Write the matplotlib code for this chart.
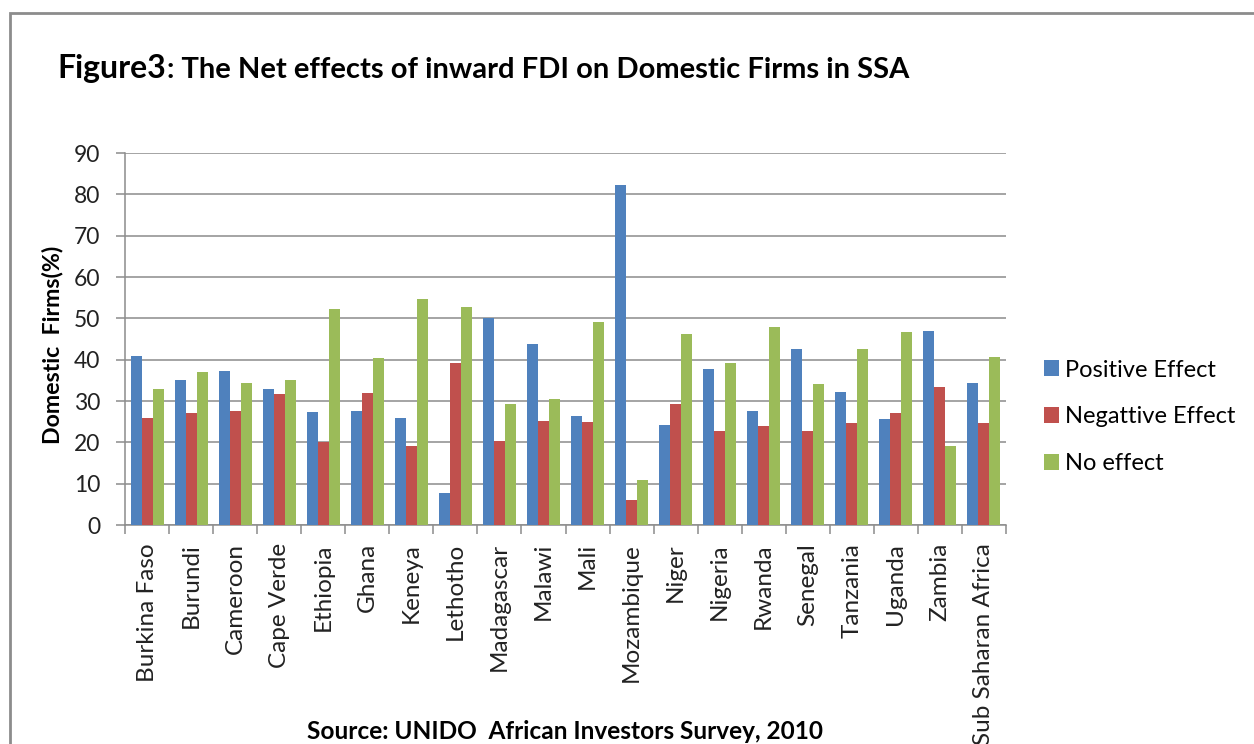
import matplotlib
matplotlib.use("Agg")
import matplotlib.pyplot as plt
import numpy as np
from matplotlib.patches import Rectangle

countries = ["Burkina Faso", "Burundi", "Cameroon", "Cape Verde", "Ethiopia", "Ghana",
             "Keneya", "Lethotho", "Madagascar", "Malawi", "Mali", "Mozambique", "Niger",
             "Nigeria", "Rwanda", "Senegal", "Tanzania", "Uganda", "Zambia",
             "Sub Saharan Africa"]
positive = [41.0, 35.2, 37.3, 32.8, 27.3, 27.7, 25.8, 7.7, 50.0, 43.7,
            26.4, 82.3, 24.3, 37.7, 27.7, 42.5, 32.2, 25.6, 47.0, 34.3]
negative = [25.8, 27.0, 27.7, 31.6, 20.0, 31.9, 19.1, 39.2, 20.3, 25.2,
            24.9, 6.1, 29.2, 22.8, 24.0, 22.8, 24.6, 27.0, 33.4, 24.6]
no_effect = [32.8, 37.0, 34.3, 35.2, 52.2, 40.3, 54.6, 52.8, 29.2, 30.6,
             49.2, 11.0, 46.1, 39.2, 48.0, 34.0, 42.5, 46.8, 19.2, 40.6]
series_names = ["Positive Effect", "Negattive Effect", "No effect"]
colors = ["#4F81BD", "#C0504D", "#9BBB59"]
yticks = [0, 10, 20, 30, 40, 50, 60, 70, 80, 90]

plt.rcParams['font.family'] = ['Lato', 'DejaVu Sans']

W, H = 1254, 744
fig = plt.figure(figsize=(W / 100, H / 100), dpi=100)
fig.patch.set_facecolor("white")

# outer chart frame
fig.add_artist(Rectangle((10 / W, -0.1), 1.2, (H - 13) / H + 0.1, transform=fig.transFigure,
                         fill=False, edgecolor="#8c8c8c", linewidth=2.0))

left, right, top, bottom = 125, 1006, 153, 525
ax = fig.add_axes([left / W, 1 - bottom / H, (right - left) / W, (bottom - top) / H])

x = np.arange(len(countries))
bw = 0.25
for i, (vals, name, c) in enumerate(zip([positive, negative, no_effect], series_names, colors)):
    ax.bar(x + (i - 1) * bw, vals, width=bw, color=c, label=name, zorder=3)

ax.set_xlim(-0.5, len(countries) - 0.5)
ax.set_ylim(0, 90)
ax.set_yticks(yticks)
ax.set_yticklabels([str(v) for v in yticks], fontsize=16.5, color="#222222")
ax.yaxis.grid(True, color="#8c8c8c", linewidth=1.1, zorder=0)
ax.set_axisbelow(True)

ax.set_xticks(x)
ax.set_xticklabels(countries, rotation=90, fontsize=17.5, color="#222222")
ax.tick_params(axis='x', which='major', length=0, pad=13)
ax.set_xticks(np.arange(-0.5, len(countries), 1), minor=True)
ax.tick_params(axis='x', which='minor', length=6.5, color="#8c8c8c", width=1.1, direction='out')
ax.tick_params(axis='y', length=6.5, color="#8c8c8c", width=1.1, direction='out', pad=11.5)

for s in ['top', 'right']:
    ax.spines[s].set_visible(False)
for s in ['left', 'bottom']:
    ax.spines[s].set_color("#8c8c8c")
    ax.spines[s].set_linewidth(1.1)

fig.text(53 / W, 1 - 345 / H, "Domestic  Firms(%)", fontsize=16.7, fontweight='bold',
         rotation=90, ha='center', va='center')

leg = fig.legend(*ax.get_legend_handles_labels(), loc='center left',
                 bbox_to_anchor=(1044 / W, 1 - 417 / H), frameon=False, borderpad=0,
                 borderaxespad=0, fontsize=17, handlelength=0.65, handleheight=0.65,
                 handletextpad=0.25, labelspacing=1.1)

t1 = fig.text(57 / W, 1 - 78 / H, "Figure3", fontsize=23, fontweight='bold', ha='left',
              va='baseline')
fig.canvas.draw()
bb = t1.get_window_extent()
fig.text((bb.x1 + 1) / W, 1 - 78 / H, ": The Net effects of inward FDI on Domestic Firms in SSA",
         fontsize=21, fontweight='bold', ha='left', va='baseline')
fig.text(565 / W, 1 - 739 / H, "Source: UNIDO  African Investors Survey, 2010",
         fontsize=17.6, fontweight='bold', ha='center', va='baseline')

fig.savefig("out.png", dpi=100, facecolor="white")
